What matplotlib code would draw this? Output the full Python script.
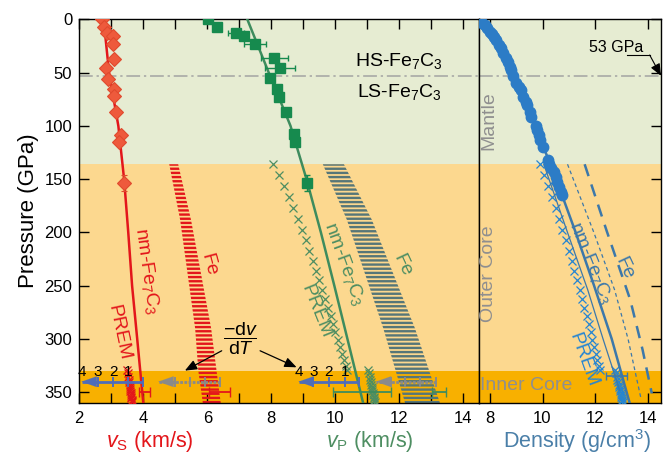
import matplotlib
matplotlib.use('Agg')
import matplotlib.pyplot as plt

plt.rcParams['font.family'] = ['Liberation Sans', 'DejaVu Sans']
plt.rcParams['mathtext.fontset'] = 'custom'
plt.rcParams['mathtext.rm'] = 'Liberation Sans'
plt.rcParams['mathtext.it'] = 'Liberation Sans:italic'
plt.rcParams['mathtext.bf'] = 'Liberation Sans:bold'
plt.rcParams['hatch.linewidth'] = 1.7

# ---------------- data ----------------
region_bounds = [0, 136, 330, 360]
region_colors = ['#E6ECD2', '#FCD88F', '#F8B000']
spin_P = 53

# vs measurements (red diamonds)
vs_P = [0, 7, 13, 15.7, 23.5, 37.5, 46, 56, 65.7, 72, 87, 108.5, 115, 154]
vs_val = [2.70, 2.78, 2.86, 3.04, 3.04, 3.09, 2.83, 2.91, 3.07, 3.08, 3.15, 3.30, 3.25, 3.41]
vs_perr = [0, 0, 0, 0, 0, 0, 0, 0, 0, 0, 0, 4, 0, 7.5]
# nm-Fe7C3 vs model
vsl_P = [0, 50, 100, 150, 200, 250, 300, 360]
vsl_val = [2.76, 2.93, 3.22, 3.40, 3.53, 3.65, 3.81, 4.00]
# Fe vs band
fevs_P = [136, 188, 290, 330, 360]
fevs_lo = [4.81, 5.15, 5.62, 5.72, 5.86]
fevs_hi = [5.09, 5.49, 6.12, 6.29, 6.42]

# vp measurements (green squares)
vp_P = [0, 7, 13.2, 15.7, 23.2, 36.6, 46, 55.4, 65.7, 72.6, 87.3, 108, 114.8, 153.3]
vp_val = [6.01, 6.29, 6.90, 7.15, 7.49, 8.09, 8.27, 7.96, 8.19, 8.25, 8.45, 8.72, 8.74, 9.11]
vp_verr = [0, 0, 0.25, 0, 0.33, 0.42, 0.47, 0, 0, 0, 0, 0, 0, 0]
vp_perr = [0, 0, 0, 0, 0, 0, 0, 0, 0, 0, 0, 4, 0, 7.5]
vpl_P = [0, 50, 100, 150, 200, 250, 300, 360]
vpl_val = [7.25, 7.92, 8.60, 9.10, 9.55, 9.97, 10.38, 10.87]
fevp_P = [136, 188, 290, 360]
fevp_lo = [9.61, 10.36, 11.50, 12.18]
fevp_hi = [10.27, 11.14, 12.49, 13.27]

# density measurements (blue circles)
rho_P = [0, 3.2, 5.3, 8.5, 11.6, 14.1, 17, 19.4, 24.1, 27.2, 31.9, 36.6, 39.8, 44.5, 47.6,
         53.2, 60, 63.2, 66.3, 72.6, 77.3, 80.4, 86.7, 91.4, 100.1, 103.8, 108.5, 113.2,
         119.5, 132, 135.7, 139.8, 143, 147.7, 152.3, 157, 161.7, 164.8]
rho_val = [7.60, 7.72, 7.81, 7.90, 8.00, 8.09, 8.17, 8.25, 8.35, 8.41, 8.51, 8.63, 8.70, 8.76, 8.82,
           8.88, 9.01, 9.11, 9.17, 9.26, 9.37, 9.43, 9.52, 9.56, 9.75, 9.80, 9.87, 9.92,
           10.02, 10.19, 10.25, 10.34, 10.43, 10.50, 10.55, 10.63, 10.69, 10.74]
rhol_P = [0, 25, 50, 75, 100, 125, 150, 200, 250, 300, 360]
rhol_val = [7.62, 8.36, 8.86, 9.32, 9.74, 10.12, 10.52, 11.26, 11.96, 12.63, 13.31]
rho_hot_P = [136, 200, 254, 300, 348]
rho_hot_val = [10.05, 10.95, 11.72, 12.30, 12.93]
rho_fe_thin_P = [136, 200, 254, 300, 357]
rho_fe_thin_val = [10.95, 11.95, 12.74, 13.25, 13.75]
rho_fe_P = [136, 198, 263, 310, 351]
rho_fe_val = [11.60, 12.43, 13.33, 13.80, 14.15]

# PREM
prem_P_oc = [135.75, 146.30, 156.78, 167.18, 177.47, 187.63, 197.65, 207.51, 217.18, 226.66,
             235.93, 244.96, 253.76, 262.29, 270.55, 278.52, 286.20, 293.57, 300.64, 307.37,
             313.77, 319.84, 325.57, 328.85]
prem_vp_oc = [8.065, 8.232, 8.391, 8.543, 8.686, 8.822, 8.952, 9.074, 9.190, 9.300, 9.405, 9.503,
              9.597, 9.686, 9.771, 9.851, 9.927, 10.000, 10.069, 10.136, 10.200, 10.262, 10.322, 10.356]
prem_rho_oc = [9.904, 10.060, 10.211, 10.356, 10.495, 10.628, 10.755, 10.877, 10.994, 11.105,
               11.212, 11.313, 11.409, 11.501, 11.588, 11.671, 11.749, 11.824, 11.894, 11.960,
               12.022, 12.081, 12.136, 12.166]
prem_P_ic = [328.85, 332.29, 335.47, 337.99, 340.39, 342.68, 344.85, 346.90, 348.84, 350.66,
             352.36, 353.94, 355.41, 356.75, 357.99, 359.10]
prem_vp_ic = [11.028, 11.051, 11.072, 11.089, 11.105, 11.121, 11.135, 11.149, 11.162, 11.174,
              11.185, 11.196, 11.206, 11.215, 11.223, 11.230]
prem_vs_ic = [3.504, 3.520, 3.535, 3.547, 3.558, 3.569, 3.579, 3.589, 3.598, 3.606, 3.614,
              3.622, 3.628, 3.635, 3.640, 3.646]
prem_rho_ic = [12.764, 12.795, 12.825, 12.848, 12.871, 12.892, 12.912, 12.931, 12.949, 12.966,
               12.982, 12.997, 13.010, 13.023, 13.034, 13.044]

# temperature-effect bars (start, tick1, tick2, tick3, end)
tbar_P = 340
vs_tbar_blue = [4.00, 3.53, 3.06, 2.59, 2.07]
vs_tbar_gray = [6.40, 5.93, 5.47, 4.99, 4.47]
vp_tbar_blue = [10.75, 10.30, 9.80, 9.31, 8.85]
vp_tbar_gray = [13.15, 12.65, 12.18, 11.73, 11.27]
tbar_labels = ['1', '2', '3', '4']

# inner core error bars (centre, half width)
ic_err_P = 350
vs_ic_err = [(4.03, 0.18), (6.38, 0.34)]
vp_ic_err = [(10.83, 0.90), (13.23, 0.22)]
rho_ic_err_P = 335
rho_ic_err = [(12.81, 0.38)]

vel_ticks = list(range(2, 15))
rho_ticks = [8, 10, 12, 14]
p_ticks = [0, 50, 100, 150, 200, 250, 300, 350]

# ---------------- colours ----------------
RED = '#E3161B'
RED_M = '#EE5A3C'
GREEN = '#3E8C5E'
GREEN_M = '#168A4E'
GREEN_T = '#4E8E62'
BLUE = '#3C78AA'
BLUE_M = '#2C7CC6'
BLUE_P = '#2585D2'
SLATE = '#567678'
GRAY = '#8F8F8F'
TBLUE = '#4F6DB8'
TGRAY = '#8A8A8A'

fig = plt.figure(figsize=(6.67, 4.58), dpi=100)
ax1 = fig.add_axes([79.3 / 667, 55 / 458, 400 / 667, 383.7 / 458])
ax2 = fig.add_axes([479.3 / 667, 55 / 458, 181.7 / 667, 383.7 / 458], sharey=ax1)

for ax in (ax1, ax2):
    for lo, hi, c in zip(region_bounds[:-1], region_bounds[1:], region_colors):
        ax.axhspan(lo, hi, color=c, lw=0, zorder=0)
    ax.axhline(spin_P, color='#A3A3A3', lw=1.1, dashes=(9, 2.5, 1.5, 2.5), zorder=1)

# ---- velocity panel ----
ax1.fill_betweenx(fevs_P, fevs_lo, fevs_hi, facecolor='none', edgecolor=RED,
                  hatch='----', lw=0, zorder=2)
ax1.fill_betweenx(fevp_P, fevp_lo, fevp_hi, facecolor='none', edgecolor=SLATE,
                  hatch='----', lw=0, zorder=2)

ax1.plot(vsl_val, vsl_P, color=RED, lw=1.8, zorder=4)
ax1.plot(vpl_val, vpl_P, color=GREEN, lw=1.8, zorder=4)

ax1.plot(prem_vp_oc, prem_P_oc, ls='none', marker='x', ms=5.5, mew=0.9, color=GREEN_T, zorder=3)
ax1.plot(prem_vp_ic, prem_P_ic, ls='none', marker='x', ms=5.5, mew=0.9, color=GREEN_T, zorder=3)
ax1.plot(prem_vs_ic, prem_P_ic, ls='none', marker='x', ms=5.5, mew=0.9, color=RED, zorder=3)

ax1.errorbar(vs_val, vs_P, yerr=vs_perr, fmt='D', ms=7.5, mfc=RED_M, mec='#E04A2E', mew=0.8,
             ecolor='#E04A2E', elinewidth=1, capsize=2.5, zorder=5)
ax1.errorbar(vp_val, vp_P, xerr=vp_verr, yerr=vp_perr, fmt='s', ms=6.5, mfc=GREEN_M, mec=GREEN_M,
             ecolor=GREEN_M, elinewidth=1, capsize=2.5, zorder=5)

for c, h in vs_ic_err:
    ax1.errorbar([c], [ic_err_P], xerr=[h], fmt='none', ecolor=RED, elinewidth=1.3, capsize=3.5, zorder=6)
for c, h in vp_ic_err:
    ax1.errorbar([c], [ic_err_P], xerr=[h], fmt='none', ecolor=GREEN, elinewidth=1.3, capsize=3.5, zorder=6)


def tbar(ax, pts, color, dashes, labels=None):
    ax.plot(pts, [tbar_P] * len(pts), color=color, lw=2.0, dashes=dashes,
            solid_capstyle='butt', zorder=7)
    ax.annotate('', xy=(pts[-1], tbar_P), xytext=(pts[-1] + 0.45, tbar_P),
                arrowprops=dict(arrowstyle='-|>,head_length=0.9,head_width=0.32', color=color,
                                lw=0.1, shrinkA=0, shrinkB=0, mutation_scale=12),
                zorder=7)
    ax.plot(pts[:4], [tbar_P] * 4, ls='none', marker='|', ms=7, mew=1.4, color=color, zorder=7)
    if labels:
        for x, t in zip(pts[1:], labels):
            ax.text(x, 331, t, ha='center', va='center', fontsize=11, color='black', zorder=8)


tbar(ax1, vs_tbar_blue, TBLUE, (None, None), tbar_labels)
tbar(ax1, vs_tbar_gray, TGRAY, (1.0, 0.5))
tbar(ax1, vp_tbar_blue, TBLUE, (None, None), tbar_labels)
tbar(ax1, vp_tbar_gray, TGRAY, (1.0, 0.5))

ax1.text(7.03, 300, r'$\dfrac{-\mathrm{d}v}{\mathrm{d}T}$', fontsize=14, ha='center', va='center', zorder=8)
ax1.annotate('', xy=(5.30, 329.6), xytext=(6.45, 311),
             arrowprops=dict(arrowstyle='-|>,head_length=0.6,head_width=0.25', color='black',
                             lw=0.9, shrinkA=0, shrinkB=0, mutation_scale=12), zorder=8)
ax1.annotate('', xy=(8.79, 326.5), xytext=(7.65, 311),
             arrowprops=dict(arrowstyle='-|>,head_length=0.6,head_width=0.25', color='black',
                             lw=0.9, shrinkA=0, shrinkB=0, mutation_scale=12), zorder=8)

ax1.text(4.12, 236, r'nm-Fe$_7$C$_3$', color=RED, fontsize=14, rotation=-82, ha='center', va='center')
ax1.text(3.23, 294, 'PREM', color=RED, fontsize=14, rotation=-78, ha='center', va='center')
ax1.text(6.04, 230, 'Fe', color=RED, fontsize=14, rotation=-75, ha='center', va='center')
ax1.text(10.27, 229, r'nm-Fe$_7$C$_3$', color=GREEN_T, fontsize=14, rotation=-70, ha='center', va='center')
ax1.text(9.41, 274, 'PREM', color=GREEN_T, fontsize=14, rotation=-68, ha='center', va='center')
ax1.text(12.08, 231, 'Fe', color=GREEN_T, fontsize=14, rotation=-65, ha='center', va='center')
ax1.text(12.0, 39, r'HS-Fe$_7$C$_3$', fontsize=14, ha='center', va='center')
ax1.text(12.0, 68, r'LS-Fe$_7$C$_3$', fontsize=14, ha='center', va='center')

# ---- density panel ----
ax2.plot(prem_rho_oc, prem_P_oc, ls='none', marker='x', ms=5.5, mew=0.9, color=BLUE_P, zorder=3)
ax2.plot(prem_rho_ic, prem_P_ic, ls='none', marker='x', ms=5.5, mew=0.9, color=BLUE_P, zorder=3)
ax2.plot(rho_hot_val, rho_hot_P, color=BLUE, lw=0.9, zorder=4)
ax2.plot(rho_fe_thin_val, rho_fe_thin_P, color=BLUE, lw=0.9, dashes=(3, 2.5), zorder=4)
ax2.plot(rho_fe_val, rho_fe_P, color=BLUE, lw=1.8, dashes=(5, 3.5), zorder=4)
ax2.plot(rhol_val, rhol_P, color=BLUE, lw=1.8, zorder=4)
ax2.plot(rho_val, rho_P, ls='none', marker='o', ms=7.5, mfc=BLUE_M, mec=BLUE_M, zorder=5)
for c, h in rho_ic_err:
    ax2.errorbar([c], [rho_ic_err_P], xerr=[h], fmt='none', ecolor=BLUE, elinewidth=1.2, capsize=3, zorder=6)

ax2.text(11.83, 229, r'nm-Fe$_7$C$_3$', color=BLUE, fontsize=14, rotation=-68, ha='center', va='center')
ax2.text(13.12, 234, 'Fe', color=BLUE, fontsize=14, rotation=-65, ha='center', va='center')
ax2.text(11.54, 320, 'PREM', color=BLUE_P, fontsize=14, rotation=-70, ha='center', va='center')
ax2.text(7.96, 95, 'Mantle', color=GRAY, fontsize=14, rotation=90, ha='center', va='center')
ax2.text(7.96, 239, 'Outer Core', color=GRAY, fontsize=14, rotation=90, ha='center', va='center')
ax2.text(7.62, 344, 'Inner Core', color=GRAY, fontsize=14, ha='left', va='center', zorder=8)

ax2.text(12.78, 26, '53 GPa', fontsize=11.5, ha='center', va='center')
ax2.plot([13.19, 14.07], [33.5, 33.5], color='black', lw=0.8)
ax2.annotate('', xy=(14.5, 53), xytext=(14.07, 33.5),
             arrowprops=dict(arrowstyle='-|>,head_length=0.6,head_width=0.25', color='black',
                             lw=0.8, shrinkA=0, shrinkB=0, mutation_scale=12), zorder=8,
             annotation_clip=False)

# ---- axes styling ----
ax1.set_ylim(360, 0)
ax1.set_yticks(p_ticks)
ax1.set_xlim(2, 14.5)
ax1.set_xticks(vel_ticks)
ax1.set_xticklabels([str(t) if t % 2 == 0 else '' for t in vel_ticks])
ax2.set_xlim(7.6, 14.5)
ax2.set_xticks(rho_ticks)

ax1.tick_params(axis='x', direction='in', top=True, bottom=True, length=7.5, width=1, labelsize=12, pad=6)
ax1.tick_params(axis='y', direction='in', left=True, right=False, length=7.5, width=1, labelsize=12, pad=5)
ax2.tick_params(axis='x', direction='in', top=True, bottom=True, length=7.5, width=1, labelsize=12, pad=6)
ax2.tick_params(axis='y', direction='in', left=False, right=True, labelleft=False, length=7.5, width=1)
for ax in (ax1, ax2):
    for s in ax.spines.values():
        s.set_linewidth(1.0)

ax1.set_ylabel('Pressure (GPa)', fontsize=16, labelpad=4)
ax1.text(4.21, -0.1, r'$v_\mathrm{S}$ (km/s)', color=RED, fontsize=15.5, ha='center', va='center',
         transform=ax1.get_xaxis_transform())
ax1.text(11.08, -0.1, r'$v_\mathrm{P}$ (km/s)', color=GREEN_T, fontsize=15.5, ha='center', va='center',
         transform=ax1.get_xaxis_transform())
ax2.text(0.538, -0.1, r'Density (g/cm$^3$)', color='#4A7FA8', fontsize=15.5, ha='center', va='center',
         transform=ax2.transAxes)

fig.savefig('out.png', dpi=100)
